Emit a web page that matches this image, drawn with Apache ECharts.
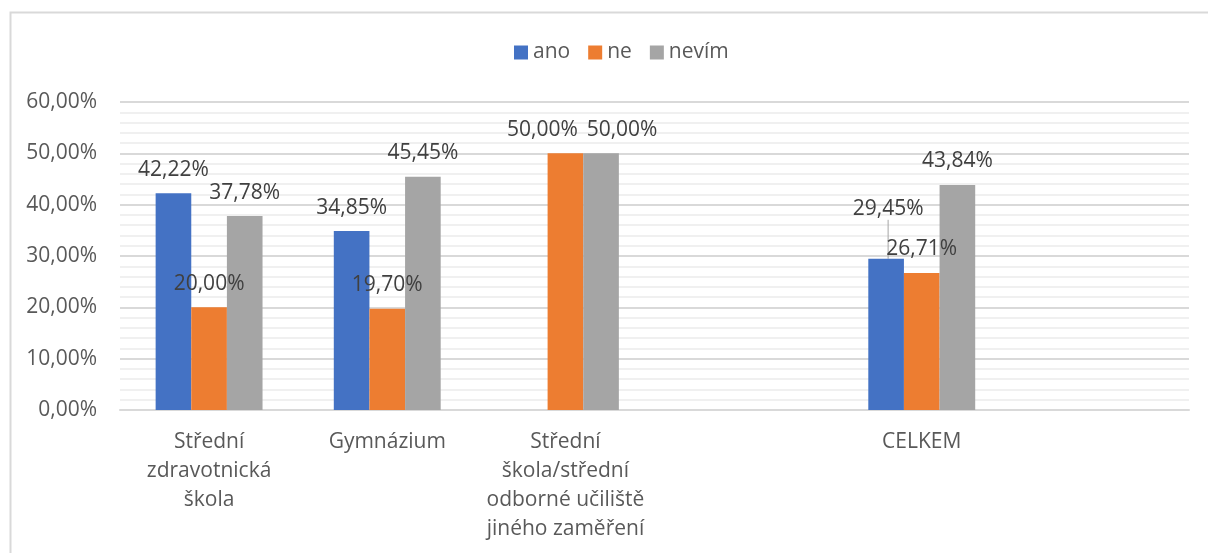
<!DOCTYPE html>
<html>
<head>
<meta charset="utf-8">
<script src="https://cdn.jsdelivr.net/npm/echarts@6/dist/echarts.min.js"></script>
<style>
  html, body { margin: 0; padding: 0; background: #ffffff; }
  #chart { width: 1208px; height: 553px; }
</style>
</head>
<body>
<div id="chart"></div>
<script>
// Categories (two empty slots keep the spacing of the original layout)
const categories = [
  'Střední\nzdravotnická\nškola',
  'Gymnázium',
  'Střední\nškola/střední\nodborné učiliště\njiného zaměření',
  '',
  'CELKEM',
  ''
];

// Share of answers, in percent
const ano   = [42.22, 34.85, null, null, 29.45, null];
const ne    = [20.00, 19.70, 50.00, null, 26.71, null];
const nevim = [37.78, 45.45, 50.00, null, 43.84, null];

const seriesNames = ['ano', 'ne', 'nevím'];
const yTicks = [0, 10, 20, 30, 40, 50, 60];

// Manual nudges of a few value labels so they do not collide;
// "line" draws a leader line back to the bar
const labelNudge = {
  'ano': { 4: { dx: 2, dy: -26, line: true } },
  'ne': { 2: { dx: -23, dy: 0 } },
  'nevím': { 2: { dx: 21, dy: 0 } }
};

const FONT = '"Open Sans", sans-serif';
const fmtPct = v => v.toFixed(2).replace('.', ',') + '%';

const chart = echarts.init(document.getElementById('chart'), null, { renderer: 'canvas' });

function makeSeries(name, values, color) {
  const nudge = labelNudge[name] || {};
  const data = values.map((v, i) => {
    const n = nudge[i];
    if (n && n.line) {
      return { value: v, labelLine: { show: true, lineStyle: { color: '#a6a6a6', width: 1 } } };
    }
    return v;
  });
  return {
    name: name,
    type: 'bar',
    data: data,
    itemStyle: { color: color },
    barGap: '0%',
    barCategoryGap: '40%',
    label: {
      show: true,
      position: 'top',
      distance: 13,
      fontFamily: FONT,
      fontSize: 21,
      color: '#404040',
      formatter: p => fmtPct(p.value)
    },
    labelLine: { show: false },
    labelLayout: function (params) {
      const n = nudge[params.dataIndex];
      return n ? { dx: n.dx, dy: n.dy } : {};
    }
  };
}

chart.setOption({
  backgroundColor: '#ffffff',
  animation: false,
  graphic: [{
    type: 'rect',
    left: 8,
    top: 10,
    shape: { width: 1400, height: 800 },
    style: { fill: 'none', stroke: '#d9d9d9', lineWidth: 2 },
    silent: true,
    z: -1
  }],
  legend: {
    data: seriesNames,
    left: 509,
    top: 37,
    icon: 'rect',
    itemWidth: 14,
    itemHeight: 14,
    itemGap: 18,
    textStyle: { fontFamily: FONT, fontSize: 21, color: '#595959' }
  },
  grid: { left: 120, right: 19, top: 102, bottom: 143, containLabel: false },
  xAxis: {
    type: 'category',
    data: categories,
    axisLine: { show: true, lineStyle: { color: '#d9d9d9', width: 2 } },
    axisTick: { show: false },
    axisLabel: {
      interval: 0,
      margin: 18,
      fontFamily: FONT,
      fontSize: 21,
      lineHeight: 29,
      color: '#595959',
      align: 'center'
    }
  },
  yAxis: {
    type: 'value',
    min: yTicks[0],
    max: yTicks[yTicks.length - 1],
    interval: yTicks[1] - yTicks[0],
    axisLine: { show: false },
    axisTick: { show: false },
    axisLabel: {
      margin: 23,
      fontFamily: FONT,
      fontSize: 21,
      color: '#595959',
      formatter: v => fmtPct(v)
    },
    splitLine: { show: true, lineStyle: { color: '#d9d9d9', width: 2 } },
    minorTick: { show: false, splitNumber: 5 },
    minorSplitLine: { show: true, lineStyle: { color: '#f0f0f0', width: 2 } }
  },
  series: [
    makeSeries('ano', ano, '#4472C4'),
    makeSeries('ne', ne, '#ED7D31'),
    makeSeries('nevím', nevim, '#A5A5A5')
  ]
});
</script>
</body>
</html>
